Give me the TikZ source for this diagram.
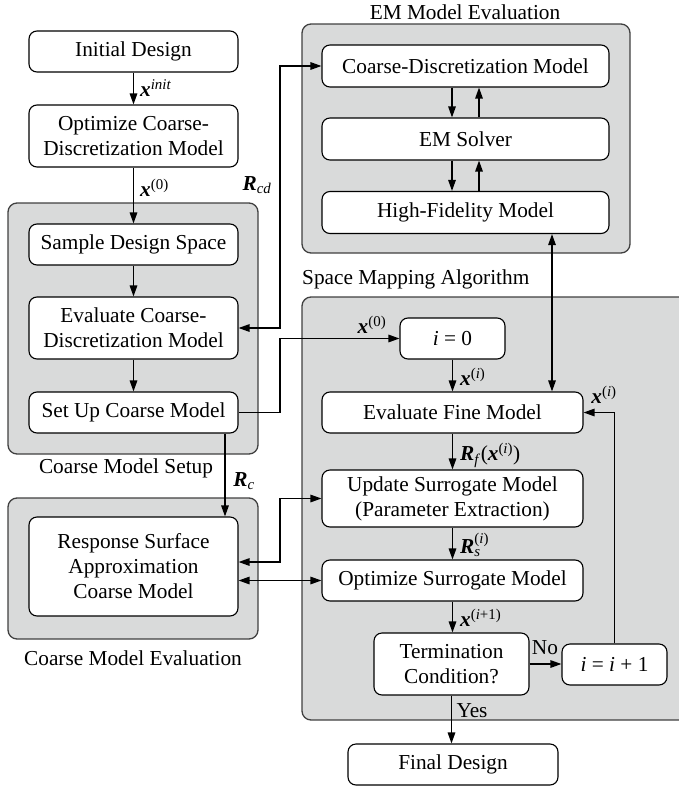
\documentclass[tikz,border=0pt]{standalone}
\usepackage{amsmath}
\usepackage{fontspec}
\setmainfont{Liberation Serif}
\usetikzlibrary{arrows.meta,calc}

\definecolor{panelgray}{HTML}{D9DADA}
\definecolor{paneledge}{HTML}{404040}

% bold italic vector symbols
\newcommand\vecx{\textbf{\textit{x}}}
\newcommand\vecR{\textbf{\textit{R}}}

\tikzset{
  stepbox/.style={draw=black, line width=1.1pt, fill=white, rounded corners=8pt,
    align=center, inner sep=0pt, minimum height=41pt},
  panel/.style={draw=paneledge, line width=1.3pt, fill=panelgray, rounded corners=9pt},
  flow/.style={line width=1.4pt, -{Triangle[length=11pt,width=7.5pt]}},
  flowboth/.style={line width=1.4pt,
    {Triangle[length=11pt,width=7.5pt]}-{Triangle[length=11pt,width=7.5pt]}},
  lbl/.style={inner sep=0pt, anchor=west},
  grouptitle/.style={inner sep=0pt},
}

\begin{document}
\begin{tikzpicture}[x=1pt,y=-1pt,font=\fontsize{21.3}{25}\selectfont]
\useasboundingbox (0,0) rectangle (678,787);

% group panels
\draw[panel] (8,203) rectangle (258,454);
\draw[panel] (8,498) rectangle (258,639);
\draw[panel] (302,24) rectangle (630,253);
\draw[panel] (302,297) rectangle (720,720);

\node[grouptitle] (tEM) at (465,12) {EM Model Evaluation};
\node[grouptitle, anchor=west] (tSM) at (302,279) {Space Mapping Algorithm};
\node[grouptitle] (tCS) at (126,468) {Coarse Model Setup};
\node[grouptitle] (tCE) at (133,658) {Coarse Model Evaluation};

% left column
\node[stepbox, minimum width=209pt] (init) at (133.5,51.5) {Initial Design};
\node[stepbox, minimum width=209pt, minimum height=62pt] (opt) at (133.5,136)
  {Optimize Coarse-\\Discretization Model};
\node[stepbox, minimum width=209pt] (sample) at (133.5,244.5) {Sample Design Space};
\node[stepbox, minimum width=209pt, minimum height=62pt] (evalc) at (133.5,328)
  {Evaluate Coarse-\\Discretization Model};
\node[stepbox, minimum width=209pt] (setup) at (133.5,412.5) {Set Up Coarse Model};
\node[stepbox, minimum width=209pt, minimum height=99pt] (rsa) at (133.5,566.5)
  {Response Surface\\Approximation\\Coarse Model};

% EM model evaluation
\node[stepbox, minimum width=287pt, minimum height=42pt] (cdm) at (465.5,66) {Coarse-Discretization Model};
\node[stepbox, minimum width=287pt, minimum height=42pt] (solver) at (465.5,139) {EM Solver};
\node[stepbox, minimum width=287pt, minimum height=42pt] (hfm) at (465.5,212.5) {High-Fidelity Model};

% space mapping loop
\node[stepbox, minimum width=105pt] (i0) at (452.5,338.5) {\textit{i} = 0};
\node[stepbox, minimum width=261pt] (efm) at (452.5,412.5) {Evaluate Fine Model};
\node[stepbox, minimum width=261pt, minimum height=57pt] (usm) at (452.5,498.5)
  {Update Surrogate Model\\(Parameter Extraction)};
\node[stepbox, minimum width=261pt] (osm) at (452.5,580.5) {Optimize Surrogate Model};
\node[stepbox, minimum width=155pt, minimum height=62pt] (term) at (451.5,664)
  {Termination\\Condition?};
\node[stepbox, minimum width=105pt] (inc) at (614.5,664.5) {\textit{i} = \textit{i} + 1};
\node[stepbox, minimum width=210pt] (final) at (453,764.5) {Final Design};

% routing columns
\coordinate (bus) at (280,0);
\coordinate (fx) at (552,0);

% left column flow
\draw[flow] (init) -- (opt);
\draw[flow] (opt) -- (sample);
\draw[flow] (sample) -- (evalc);
\draw[flow] (evalc) -- (setup);
\draw[flow] ([xshift=91.5pt]setup.south) -- ([xshift=91.5pt]rsa.north);

% links between the groups
\draw[flowboth] (evalc.east) -- (evalc.east -| bus) |- (cdm.west);
\draw[flow] (setup.east) -- (setup.east -| bus) |- (i0.west);
\draw[flowboth] ([yshift=4.5pt]rsa.east) -- ([yshift=4.5pt]rsa.east -| bus) |- (usm.west);
\draw[flowboth] (osm.west -| rsa.east) -- (osm.west);

% EM solver exchange
\draw[flow] ([xshift=-13.5pt]cdm.south) -- ([xshift=-13.5pt]solver.north);
\draw[flow] ([xshift=13.5pt]solver.north) -- ([xshift=13.5pt]cdm.south);
\draw[flow] ([xshift=-13.5pt]solver.south) -- ([xshift=-13.5pt]hfm.north);
\draw[flow] ([xshift=13.5pt]hfm.north) -- ([xshift=13.5pt]solver.south);
\draw[flowboth] (hfm.south -| fx) -- (efm.north -| fx);

% space mapping loop flow
\draw[flow] (i0.south) -- (efm.north);
\draw[flow] (efm.south) -- (usm.north);
\draw[flow] (usm.south) -- (osm.north);
\draw[flow] (osm.south) -- (osm.south |- term.north);
\draw[flow] (term.east) -- (term.east -| inc.west);
\draw[flow] (inc.north) |- (efm.east);
\draw[flow] (term.south) -- (term.south |- final.north);

% connector labels
\node[lbl] (lxinit) at (140,88) {\vecx$^{\text{\textit{init}}}$};
\node[lbl] (lx0a) at (140,188) {\vecx$^{\text{(0)}}$};
\node[grouptitle] (lRcd) at (257,185) {\vecR$_{\text{\textit{cd}}}$};
\node[grouptitle] (lRc) at (244,481) {\vecR$_{\text{\textit{c}}}$};
\node[grouptitle] (lx0b) at (372,325) {\vecx$^{\text{(0)}}$};
\node[lbl] (lxi) at (460,377) {\vecx$^{\text{(\textit{i})}}$};
\node[grouptitle] (lxiback) at (604,395) {\vecx$^{\text{(\textit{i})}}$};
\node[lbl] (lRf) at (460,455) {\vecR$_{\text{\textit{f}}}$(\vecx$^{\text{(\textit{i})}}$)};
\node[lbl] (lRs) at (460,545) {\vecR$_{\text{\textit{s}}}^{\text{(\textit{i})}}$};
\node[lbl] (lxnext) at (460,618) {\vecx$^{\text{(\textit{i}+1)}}$};
\node[grouptitle] (lno) at (545,648) {No};
\node[grouptitle] (lyes) at (472,711) {Yes};

\end{tikzpicture}
\end{document}
